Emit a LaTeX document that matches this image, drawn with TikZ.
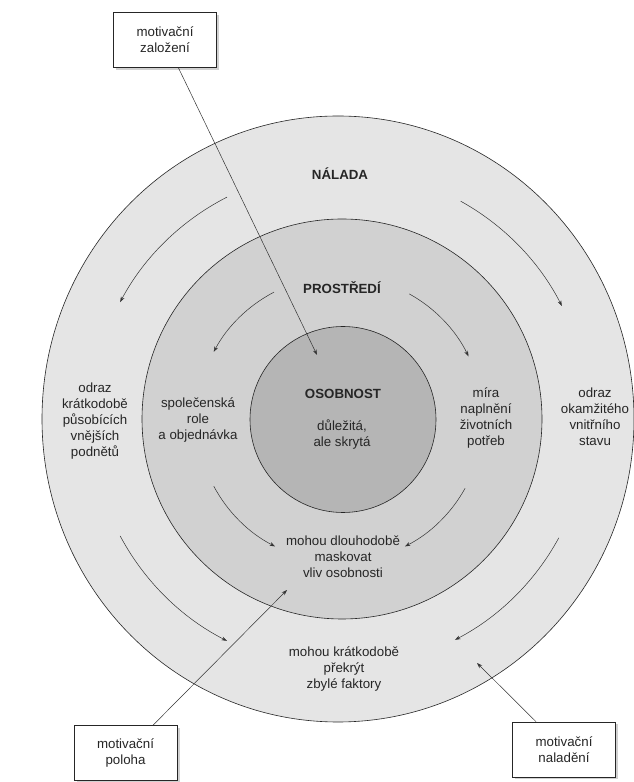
\documentclass[tikz,border=0pt]{standalone}
\usepackage{fontspec}
\setmainfont{Liberation Sans}
\usetikzlibrary{arrows.meta,shadows}
\begin{document}
\begin{tikzpicture}[x=1pt,y=1pt,
  ring/.style={draw=black!85, line width=0.6pt},
  txt/.style={align=center, inner sep=0pt, text=black!85,
    font=\fontsize{13.3}{16}\selectfont},
  heading/.style={txt, font=\fontsize{13.3}{16}\selectfont\bfseries},
  factor/.style={draw=black!85, line width=0.6pt, fill=white,
    minimum width=103pt, minimum height=55pt, align=center, inner sep=0pt,
    text=black!85, font=\fontsize{13.3}{16}\selectfont,
    drop shadow={shadow xshift=2.5pt, shadow yshift=-2.5pt, fill=black, opacity=0.18}},
  flow/.style={draw=black!80, line width=0.5pt, -{Stealth[length=5.5pt,width=3.8pt]}},
]
\useasboundingbox (0,0) rectangle (634,782);
\fill[white] (0,0) rectangle (634,782);

% centre of the rings
\coordinate (c) at (340,363);

% three nested zones
\filldraw[ring, fill=black!10] (338,363) ellipse [x radius=296, y radius=303];
\filldraw[ring, fill=black!18] (342,363) circle [radius=200];
\filldraw[ring, fill=black!29] (343,362.5) circle [radius=93];

% circulating influences in the outer zone
\draw[flow] ([shift={(117:249)}]c) arc[start angle=117, end angle=152, radius=249];
\draw[flow] ([shift={(61:249)}]c) arc[start angle=61, end angle=27, radius=249];
\draw[flow] ([shift={(208:249)}]c) arc[start angle=208, end angle=243, radius=249];
\draw[flow] ([shift={(-28.5:249)}]c) arc[start angle=-28.5, end angle=-62.5, radius=249];

% circulating influences in the middle zone
\draw[flow] ([shift={(117.5:143)}]c) arc[start angle=117.5, end angle=152, radius=143];
\draw[flow] ([shift={(61:143)}]c) arc[start angle=61, end angle=26, radius=143];
\draw[flow] ([shift={(208:143)}]c) arc[start angle=208, end angle=243, radius=143];
\draw[flow] ([shift={(-29:143)}]c) arc[start angle=-29, end angle=-63, radius=143];

% zone titles and descriptions
\node[heading] (nal) at (340,608) {NÁLADA};
\node[heading] (pro) at (342,494) {PROSTŘEDÍ};
\node[heading] (oso) at (343,388) {OSOBNOST};
\node[txt] (osod) at (342,347) {důležitá,\\ale skrytá};
\node[txt] (vnej) at (95,361) {odraz\\krátkodobě\\působících\\vnějších\\podnětů};
\node[txt] (role) at (198,362) {společenská\\role\\a objednávka};
\node[txt] (potr) at (486,364) {míra\\naplnění\\životních\\potřeb};
\node[txt] (stav) at (595,365) {odraz\\okamžitého\\vnitřního\\stavu};
\node[txt] (mask) at (343,225) {mohou dlouhodobě\\maskovat\\vliv osobnosti};
\node[txt] (prek) at (344,113) {mohou krátkodobě\\překrýt\\zbylé faktory};

% motivational factors
\node[factor] (zal) at (165,742) {motivační\\založení};
\node[factor] (pol) at (125.5,29) {motivační\\poloha};
\node[factor] (nad) at (564,32.5) {motivační\\naladění};

\coordinate (tzal) at (317,427);
\coordinate (tpol) at (287,192);
\coordinate (tnad) at (477,119);

\draw[flow] (zal) -- (tzal);
\draw[flow] (pol) -- (tpol);
\draw[flow] (nad) -- (tnad);
\end{tikzpicture}
\end{document}
